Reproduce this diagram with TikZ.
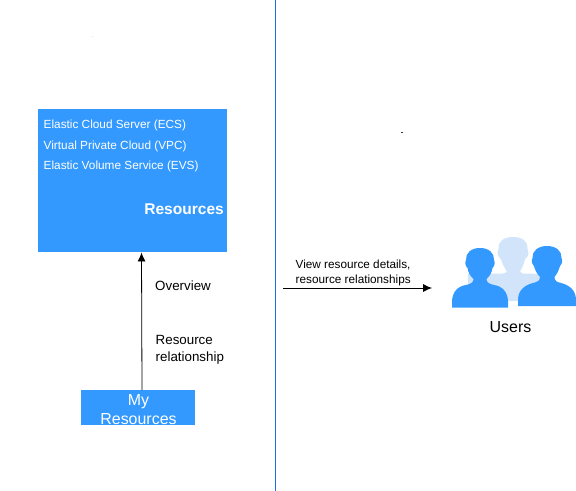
\documentclass[tikz,border=0pt]{standalone}
\usepackage{fontspec}
\setmainfont{Liberation Sans}
\usetikzlibrary{arrows.meta}
\definecolor{hwblue}{HTML}{3399FF}
\definecolor{hwpale}{HTML}{D2E4FA}
\definecolor{divider}{HTML}{1A6FE0}
\tikzset{
  bluebox/.style={fill=hwblue,draw=none,inner sep=0pt,outer sep=0pt},
  whitetext/.style={text=white,font=\fontsize{11.85}{14}\selectfont,anchor=west,inner sep=0pt},
  blacktext/.style={text=black,font=\fontsize{13.4}{17}\selectfont,anchor=west,inner sep=0pt,align=left},
  smalltext/.style={text=black,font=\fontsize{11.8}{15}\selectfont,anchor=west,inner sep=0pt,align=left},
  connector/.style={draw=black,line width=0.8pt,-{Latex[length=9pt,width=8pt]}},
  person/.style={fill=hwblue,draw=none},
  backperson/.style={fill=hwpale,draw=none}
}
\begin{document}
\begin{tikzpicture}[x=1bp,y=-1bp]
\useasboundingbox (0,0) rectangle (576,491);
\draw[divider,line width=1pt] (275.5,0) -- (275.5,491);
\fill[black!80] (400.5,132) rectangle (402.5,133);
\fill[hwpale] (92,36) rectangle (93,37);
\node[bluebox,minimum width=189bp,minimum height=143bp] (res) at (132.5,180.5) {};
\node[bluebox,minimum width=114bp,minimum height=35bp] (my) at (138,407.5) {};
\node[text=white,font=\fontsize{16}{19}\selectfont,align=center,inner sep=0pt] (mylabel) at (138.5,409.5) {My\\Resources};
\node[whitetext] (ecs) at (43.5,125.4) {Elastic Cloud Server (ECS)};
\node[whitetext] (vpc) at (43.5,146.9) {Virtual Private Cloud (VPC)};
\node[whitetext] (evs) at (43.5,166.4) {Elastic Volume Service (EVS)};
\node[text=white,font=\bfseries\fontsize{15.6}{19}\selectfont,anchor=east,inner sep=0pt] (reslabel) at (224,209.7) {Resources};
\coordinate (resin) at (141.5,252.5);
\coordinate (myout) at (142,390);
\draw[connector] (myout) -- (resin);
\node[blacktext] (ov) at (155,286.2) {Overview};
\node[blacktext] (rr) at (155.5,349.5) {Resource\\relationship};
\coordinate (va) at (283,288);
\coordinate (vb) at (432,288);
\draw[connector] (va) -- (vb);
\node[smalltext] (view) at (295.5,273) {View resource details,\\resource relationships};
\node[text=black,font=\fontsize{16}{19}\selectfont,inner sep=0pt] (users) at (510.5,326.7) {Users};
% back person
\fill[backperson] (468,301) -- (468,274) -- (503,273.5) -- (507,272)
  .. controls (505,268) and (502,264) .. (501,259)
  .. controls (497,257) and (497,252) .. (498.5,249)
  .. controls (498,241) and (504,237) .. (513,237)
  .. controls (522,237) and (528,241) .. (527.5,249)
  .. controls (529,252) and (529,257) .. (525,259)
  .. controls (524,264) and (522,268) .. (520,272) -- (523,273.5) -- (545,274) -- (545,301) -- cycle;
% left person
\fill[person] (452,307.5) -- (452,302) .. controls (452,292) and (458,286) .. (466,285)
  .. controls (470,284) and (473.5,283) .. (473.5,279)
  .. controls (470,276) and (468,272) .. (467.5,268)
  .. controls (465,266) and (465,262) .. (466,260)
  .. controls (465.5,253) and (471,248) .. (480,248)
  .. controls (489,248) and (494.5,253) .. (494,260)
  .. controls (495,262) and (495,266) .. (492.5,268)
  .. controls (492,272) and (490,276) .. (486.5,279)
  .. controls (486.5,283) and (490,284) .. (494,285)
  .. controls (502,286) and (508,292) .. (508,302) -- (508,307.5) -- cycle;
% right person
\fill[person] (518,306) -- (518,300) .. controls (518,290) and (525,285) .. (533,283)
  .. controls (537,282) and (540,281) .. (540,277)
  .. controls (537,274) and (535,270) .. (534,266)
  .. controls (531.5,264) and (531.5,260) .. (532.5,258)
  .. controls (532,251) and (538,246) .. (547,246)
  .. controls (556,246) and (562,251) .. (561.5,258)
  .. controls (562.5,260) and (562.5,264) .. (560,266)
  .. controls (559,270) and (557,274) .. (554.5,277)
  .. controls (554.5,281) and (557,282) .. (561,283)
  .. controls (569,285) and (576,290) .. (576,300) -- (576,306) -- cycle;
\end{tikzpicture}
\end{document}
